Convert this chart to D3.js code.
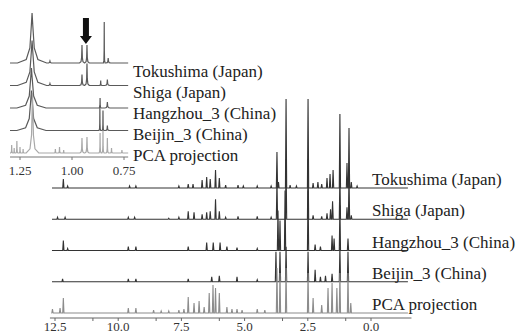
<!DOCTYPE html>
<html>
<head>
<meta charset="utf-8">
<script src="https://cdn.jsdelivr.net/npm/d3@7"></script>
<style>
  html, body { margin: 0; padding: 0; background: #fff; }
  text { font-family: "Liberation Serif", "Times New Roman", serif; }
</style>
</head>
<body>
<svg id="chart" width="520" height="335"></svg>
<script>
// sample names, top to bottom
const samples = ['Tokushima (Japan)', 'Shiga (Japan)', 'Hangzhou_3 (China)', 'Beijin_3 (China)', 'PCA projection'];

// axis ticks (ppm)
const mainTicks = [12.5, 10, 7.5, 5, 2.5, 0];
const mainMinorTicks = [11, 8.5, 6, 3.5, 1];
const insetTicks = [1.25, 1.0, 0.75];

// full spectra: [ppm, peak height]
const tokushimaPeaks = [[12.17, 9], [12.0, 2], [9.55, 2], [9.3, 2], [7.6, 2], [7.23, 4], [7.04, 4], [6.68, 8], [6.5, 11], [6.36, 9], [6.15, 18], [6.0, 10], [5.75, 3], [5.26, 3], [5.05, 2], [4.5, 2], [3.95, 2], [3.72, 36], [3.66, 6], [3.36, 89], [3.2, 3], [2.95, 2], [2.49, 89], [2.29, 5], [2.1, 6], [1.95, 4], [1.74, 10], [1.62, 14], [1.5, 18], [1.23, 74], [0.95, 25], [0.87, 60], [0.78, 6], [0.55, 2]];
const shigaPeaks = [[12.4, 2], [12.1, 2], [9.6, 2], [9.35, 2], [8.0, 1], [7.6, 2], [7.23, 8], [7.0, 7], [6.68, 5], [6.5, 7], [6.36, 8], [6.15, 20], [6.0, 8], [5.75, 2], [5.26, 3], [4.5, 3], [3.95, 2], [3.72, 40], [3.36, 60], [2.49, 60], [2.29, 4], [1.95, 3], [1.74, 6], [1.6, 10], [1.52, 18], [1.23, 45], [0.95, 12], [0.87, 45], [0.78, 4]];
const hangzhouPeaks = [[12.17, 10], [12.0, 2], [9.6, 4], [9.3, 4], [7.23, 4], [6.5, 8], [6.24, 8], [5.97, 8], [5.7, 4], [5.3, 3], [4.5, 2], [3.68, 40], [3.6, 30], [3.4, 60], [2.49, 60], [2.21, 6], [2.0, 4], [1.54, 15], [1.46, 12], [1.23, 45], [0.91, 12]];
const beijinPeaks = [[12.2, 3], [9.6, 3], [9.3, 3], [7.23, 3], [6.3, 5], [6.0, 6], [5.3, 5], [4.5, 2], [3.76, 30], [3.6, 30], [3.36, 35], [2.49, 30], [2.21, 12], [2.0, 5], [1.8, 6], [1.54, 8], [1.23, 35], [0.91, 30]];
const pcaPeaks = [[12.6, 4], [12.3, 5], [12.17, 15], [9.6, 5], [9.3, 5], [8.6, 3], [8.3, 2], [8.0, 2], [7.6, 3], [7.4, 4], [7.23, 16], [7.0, 10], [6.8, 12], [6.6, 6], [6.4, 20], [6.25, 28], [6.15, 25], [6.0, 20], [5.7, 6], [5.5, 4], [5.3, 4], [5.1, 3], [4.5, 4], [4.2, 3], [3.72, 45], [3.6, 40], [3.36, 45], [2.49, 40], [2.29, 15], [1.95, 8], [1.7, 25], [1.54, 30], [1.35, 25], [1.23, 40], [0.91, 40], [0.8, 10]];

// inset (1.3 - 0.73 ppm): [ppm, height, half width]
const tokushimaInset = [[1.192, 50, 0.07], [1.106, 2, 0.015], [0.952, 18, 0.012], [0.928, 18, 0.011], [0.845, 41, 0.004], [0.826, 5, 0.012]];
const shigaInset = [[1.192, 45, 0.07], [1.106, 2, 0.015], [0.952, 11, 0.012], [0.928, 22, 0.011], [0.862, 5, 0.006], [0.83, 6, 0.012]];
const hangzhouInset = [[1.195, 40, 0.07], [0.865, 10, 0.005], [0.83, 6, 0.012]];
const beijinInset = [[1.195, 40, 0.07], [0.866, 25, 0.004], [0.851, 20, 0.004], [0.83, 5, 0.01]];
const pcaInset = [[1.29, 8, 0.005], [1.278, 5, 0.004], [1.265, 12, 0.005], [1.25, 6, 0.004], [1.235, 4, 0.004], [1.19, 60, 0.03], [1.08, 4, 0.006], [1.06, 6, 0.006], [1.04, 3, 0.005], [0.952, 15, 0.01], [0.928, 16, 0.01], [0.865, 20, 0.005], [0.851, 22, 0.005], [0.83, 15, 0.006], [0.81, 5, 0.006], [0.76, 3, 0.006]];

const mainSpectra = [tokushimaPeaks, shigaPeaks, hangzhouPeaks, beijinPeaks, pcaPeaks];
const insetSpectra = [tokushimaInset, shigaInset, hangzhouInset, beijinInset, pcaInset];
const arrowPpm = 0.933;

const svg = d3.select('#chart');
const colors = ['#333', '#333', '#333', '#333', '#8c8c8c'];
const insetColors = ['#5a5a5a', '#5a5a5a', '#5a5a5a', '#5a5a5a', '#a8a8a8'];
const line = d3.line();

// ---------- main plot ----------
const x = d3.scaleLinear().domain([12.5, 0]).range([55, 371]);
const rowY = d3.scaleLinear().domain([0, samples.length - 1]).range([188, 313]);
const h = d3.scaleLinear().domain([0, 100]).range([0, -100]);

function spikePath(peaks, from, to, w) {
  const pts = [[from, 0]];
  peaks.slice().sort((a, b) => b[0] - a[0]).forEach(([p, v]) => {
    pts.push([p + w, 0], [p, v], [p - w, 0]);
  });
  pts.push([to, 0]);
  return line.x(d => x(d[0])).y(d => h(d[1]))(pts);
}

mainSpectra.forEach((peaks, i) => {
  const g = svg.append('g').attr('transform', `translate(0,${rowY(i)})`);
  g.append('path')
    .attr('d', spikePath(peaks, 12.62, -1.46, 0.025))
    .attr('fill', 'none')
    .attr('stroke', colors[i])
    .attr('stroke-width', 1.1);
  g.append('text')
    .attr('x', 372).attr('y', -3)
    .attr('font-size', 17).attr('fill', '#222')
    .text(samples[i]);
});

const axisY = 318;
svg.append('line')
  .attr('x1', x(12.7)).attr('x2', x(-1.6))
  .attr('y1', axisY).attr('y2', axisY)
  .attr('stroke', '#666');
svg.selectAll('.tick-major').data(mainTicks.concat(mainMinorTicks)).enter().append('line')
  .attr('x1', d => x(d)).attr('x2', d => x(d))
  .attr('y1', axisY).attr('y2', axisY + 3)
  .attr('stroke', '#666');
svg.selectAll('.tick-label').data(mainTicks).enter().append('text')
  .attr('x', d => x(d)).attr('y', 331)
  .attr('text-anchor', 'middle').attr('font-size', 13).attr('fill', '#333')
  .text(d3.format('.1f'));

// ---------- inset ----------
const xi = d3.scaleLinear().domain([1.25, 0.75]).range([20, 124]);
const insetRowY = d3.scaleLinear().domain([0, samples.length - 1]).range([63, 153]);
const shape = [[1, 0], [0.4, 0.07], [0.15, 0.3], [0.05, 0.75], [0, 1]];

function insetPath(peaks, from, to) {
  const pts = [[from, 0]];
  peaks.slice().sort((a, b) => b[0] - a[0]).forEach(([p, v, w]) => {
    shape.forEach(([f, k]) => pts.push([p + f * w, v * k]));
    shape.slice(0, -1).reverse().forEach(([f, k]) => pts.push([p - f * w, v * k]));
  });
  pts.push([to, 0]);
  return line.x(d => xi(d[0])).y(d => h(d[1]))(pts);
}

insetSpectra.forEach((peaks, i) => {
  svg.append('path')
    .attr('transform', `translate(0,${insetRowY(i)})`)
    .attr('d', insetPath(peaks, 1.298, 0.73))
    .attr('fill', 'none')
    .attr('stroke', insetColors[i])
    .attr('stroke-width', 1.2);
  svg.append('text')
    .attr('x', 133).attr('y', insetRowY(i) + 14 - i * 1.5)
    .attr('font-size', 17).attr('fill', '#222')
    .text(samples[i]);
});

const insetAxisY = 157;
svg.append('line')
  .attr('x1', xi(1.298)).attr('x2', xi(0.73))
  .attr('y1', insetAxisY).attr('y2', insetAxisY)
  .attr('stroke', '#777');
svg.selectAll('.itick').data(insetTicks).enter().append('line')
  .attr('x1', d => xi(d)).attr('x2', d => xi(d))
  .attr('y1', insetAxisY).attr('y2', insetAxisY + 3)
  .attr('stroke', '#777');
svg.selectAll('.itick-label').data(insetTicks).enter().append('text')
  .attr('x', d => xi(d)).attr('y', 175)
  .attr('text-anchor', 'middle').attr('font-size', 13).attr('fill', '#333')
  .text(d3.format('.2f'));

// arrow marking the doublet
const ax = xi(arrowPpm);
svg.append('path')
  .attr('d', `M${ax - 3},18 L${ax + 3},18 L${ax + 3},36 L${ax + 6},36 L${ax},44 L${ax - 6},36 L${ax - 3},36 Z`)
  .attr('fill', '#111');
</script>
</body>
</html>
